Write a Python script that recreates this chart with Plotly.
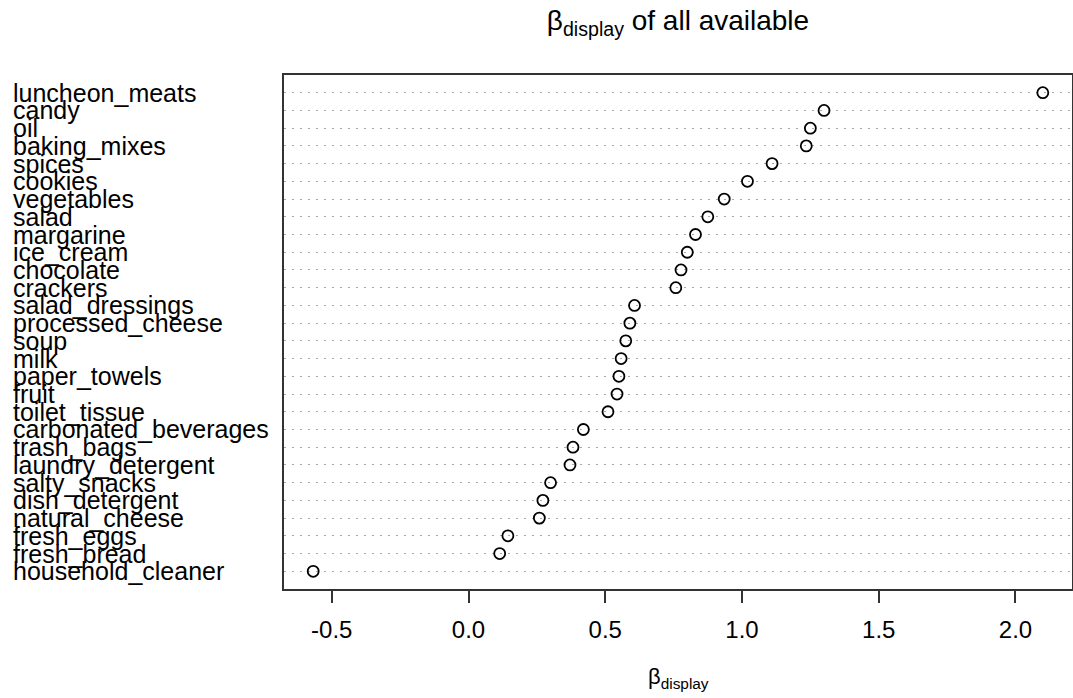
import plotly.graph_objects as go

categories = ["luncheon_meats", "candy", "oil", "baking_mixes", "spices", "cookies",
              "vegetables", "salad", "margarine", "ice_cream", "chocolate", "crackers",
              "salad_dressings", "processed_cheese", "soup", "milk", "paper_towels",
              "fruit", "toilet_tissue", "carbonated_beverages", "trash_bags",
              "laundry_detergent", "salty_snacks", "dish_detergent", "natural_cheese",
              "fresh_eggs", "fresh_bread", "household_cleaner"]
beta_display = [2.10, 1.30, 1.25, 1.235, 1.11, 1.02,
                0.935, 0.875, 0.83, 0.80, 0.777, 0.758,
                0.607, 0.59, 0.575, 0.558, 0.55,
                0.543, 0.51, 0.42, 0.382,
                0.371, 0.30, 0.272, 0.259,
                0.144, 0.114, -0.568]
x_ticks = [-0.5, 0.0, 0.5, 1.0, 1.5, 2.0]
x_tick_labels = ["-0.5", "0.0", "0.5", "1.0", "1.5", "2.0"]

FONT = "Liberation Sans, Arial, Helvetica, sans-serif"
W, H = 1073, 698
L, T = 284, 75
R = W - 1072
B = H - 589
PH = H - T - B

n = len(categories)
xmin, xmax = min(beta_display), max(beta_display)
pad = (xmax - xmin) * 0.04

fig = go.Figure()
fig.add_trace(go.Scatter(
    x=beta_display, y=categories, mode="markers",
    marker=dict(symbol="circle-open", size=11, color="black",
                line=dict(color="black", width=1.8)),
    showlegend=False, hoverinfo="x+y"))

annotations = []
for c in categories:
    annotations.append(dict(text=c, xref="paper", x=0, xshift=-(L - 10) + 1,
                            xanchor="left", yref="y", y=c, yanchor="middle",
                            showarrow=False,
                            font=dict(family=FONT, size=25, color="black")))
annotations.append(dict(text="β<sub>display</sub>", xref="paper", x=0.5, xanchor="center",
                        yref="paper", y=-(678 - (H - B)) / PH, yanchor="middle",
                        showarrow=False, font=dict(family=FONT, size=22, color="black")))

fig.update_layout(
    width=W, height=H, margin=dict(l=L, r=R, t=T, b=B, autoexpand=False),
    paper_bgcolor="white", plot_bgcolor="white",
    title=dict(text="β<sub>display</sub> of all available", x=(L + (W - L - R) / 2) / W,
               xanchor="center", y=1 - 20 / H, yanchor="middle",
               font=dict(family=FONT, size=28, color="black")),
    xaxis=dict(range=[xmin - pad, xmax + pad], tickvals=x_ticks, ticktext=x_tick_labels,
               ticks="outside", ticklen=12, tickwidth=1.5, tickcolor="#333",
               showgrid=False, zeroline=False, showline=True, linecolor="#333",
               linewidth=1.6, mirror=True, ticklabelstandoff=6,
               tickfont=dict(family=FONT, size=24, color="black")),
    yaxis=dict(type="category", categoryorder="array", categoryarray=categories[::-1],
               range=[-1, n], showticklabels=False, ticks="",
               showgrid=True, gridcolor="#a8a8a8", griddash="1.5px,6.5px", gridwidth=1.2,
               zeroline=False, showline=True, linecolor="#333", linewidth=1.6, mirror=True),
    annotations=annotations,
)

# remove the browser's default 8px body margin so the figure sits at the window origin
fig.write_html("out.html", config={"displayModeBar": False},
               post_script="document.body.style.margin='0';document.body.style.overflow='hidden';")
